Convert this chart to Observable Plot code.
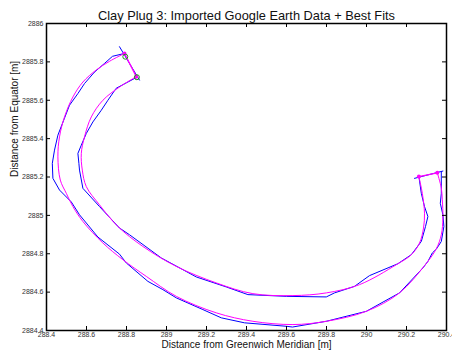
<!DOCTYPE html>
<html>
<head>
<meta charset="utf-8">
<script src="https://cdn.jsdelivr.net/npm/d3@7"></script>
<script src="https://cdn.jsdelivr.net/npm/@observablehq/plot@0.6"></script>
<style>
  html, body { margin: 0; padding: 0; background: #fff; }
  #chart { width: 452px; height: 358px; }
</style>
</head>
<body>
<div id="chart"></div>
<script>
const titleText = "Clay Plug 3: Imported Google Earth Data + Best Fits";
const xLabel = "Distance from Greenwich Meridian [m]";
const yLabel = "Distance from Equator [m]";

const xTicks = [288.4, 288.6, 288.8, 289, 289.2, 289.4, 289.6, 289.8, 290, 290.2, 290.4];
const xTickLabels = ["288.4", "288.6", "288.8", "289", "289.2", "289.4", "289.6", "289.8", "290", "290.2", "290.4"];
const yTicks = [2884.4, 2884.6, 2884.8, 2885, 2885.2, 2885.4, 2885.6, 2885.8, 2886];
const yTickLabels = ["2884.4", "2884.6", "2884.8", "2885", "2885.2", "2885.4", "2885.6", "2885.8", "2886"];

// Google Earth data (blue): outer bank
const blueOuter = [
  [288.79, 2885.844], [288.73, 2885.829], [288.69, 2885.792], [288.64, 2885.747],
  [288.59, 2885.687], [288.557, 2885.635], [288.515, 2885.574], [288.49, 2885.507],
  [288.457, 2885.418], [288.44, 2885.340], [288.429, 2885.271], [288.432, 2885.193],
  [288.465, 2885.132], [288.524, 2885.070], [288.565, 2885.003], [288.657, 2884.887],
  [288.765, 2884.798], [288.799, 2884.752], [288.907, 2884.656], [288.982, 2884.613],
  [289.049, 2884.570], [289.182, 2884.509], [289.274, 2884.466], [289.39, 2884.440],
  [289.599, 2884.422], [289.63, 2884.418], [289.799, 2884.448], [289.999, 2884.500],
  [290.165, 2884.596], [290.282, 2884.726], [290.307, 2884.760], [290.329, 2884.804],
  [290.349, 2884.824], [290.374, 2884.864], [290.387, 2884.942], [290.382, 2885.003],
  [290.369, 2885.063], [290.374, 2885.115], [290.374, 2885.228]
];
// Google Earth data (blue): inner bank
const blueInner = [
  [288.85, 2885.719], [288.807, 2885.695], [288.748, 2885.662], [288.707, 2885.600],
  [288.674, 2885.548], [288.632, 2885.487], [288.599, 2885.427], [288.574, 2885.366],
  [288.557, 2885.323], [288.562, 2885.271], [288.565, 2885.236], [288.582, 2885.141],
  [288.665, 2885.046], [288.765, 2884.934], [288.815, 2884.899], [288.974, 2884.778],
  [289.149, 2884.679], [289.299, 2884.627], [289.407, 2884.587], [289.599, 2884.578],
  [289.799, 2884.575], [289.84, 2884.596], [289.94, 2884.630], [290.015, 2884.686],
  [290.157, 2884.748], [290.224, 2884.795], [290.274, 2884.864], [290.295, 2884.942],
  [290.307, 2884.994], [290.29, 2885.046], [290.274, 2885.115], [290.262, 2885.202]
];
// Google Earth data (blue): end lines
const blueTopEnd = [[288.765, 2885.879], [288.865, 2885.705]];
const blueRightEnd = [[290.24, 2885.193], [290.382, 2885.231]];

// Best fits (magenta)
const fitOuter = [
  [288.79, 2885.844], [288.715, 2885.803], [288.649, 2885.758], [288.582, 2885.695],
  [288.532, 2885.617], [288.49, 2885.513], [288.465, 2885.409], [288.457, 2885.305],
  [288.469, 2885.184], [288.499, 2885.115], [288.532, 2885.046], [288.582, 2884.968],
  [288.682, 2884.856], [288.782, 2884.769], [288.899, 2884.682], [289.049, 2884.578],
  [289.249, 2884.492], [289.432, 2884.448], [289.632, 2884.431], [289.799, 2884.448],
  [289.999, 2884.500], [290.165, 2884.596], [290.29, 2884.738], [290.349, 2884.826],
  [290.374, 2884.899], [290.382, 2884.987], [290.379, 2885.081], [290.374, 2885.143],
  [290.354, 2885.222]
];
const fitInner = [
  [288.849, 2885.723], [288.765, 2885.669], [288.682, 2885.600], [288.624, 2885.513],
  [288.59, 2885.409], [288.574, 2885.323], [288.579, 2885.236], [288.599, 2885.150],
  [288.665, 2885.055], [288.757, 2884.942], [288.882, 2884.838], [289.049, 2884.734],
  [289.249, 2884.648], [289.432, 2884.592], [289.632, 2884.582], [289.799, 2884.596],
  [289.965, 2884.639], [290.149, 2884.743], [290.224, 2884.795], [290.265, 2884.856],
  [290.285, 2884.934], [290.29, 2885.011], [290.279, 2885.115], [290.262, 2885.202]
];
const fitTopEnd = [[288.79, 2885.844], [288.849, 2885.723]];
const fitRightEnd = [[290.262, 2885.202], [290.354, 2885.222]];
const endCircles = [[288.794, 2885.827], [288.852, 2885.720]];

const X = d => d[0], Y = d => d[1];
const font = "'Liberation Sans', Arial, Helvetica, sans-serif";
const W = 452, H = 358, mL = 46, mR = 6, mT = 23, mB = 28;
const fw = W - mL - mR, fh = H - mT - mB;

const blueLines = [blueOuter, blueInner, blueTopEnd, blueRightEnd];

const chart = Plot.plot({
  width: W, height: H,
  marginLeft: mL, marginRight: mR, marginTop: mT, marginBottom: mB,
  style: { fontFamily: font, background: "#fff", overflow: "visible" },
  x: { domain: [288.4, 290.4] },
  y: { domain: [2884.4, 2886] },
  marks: [
    ...blueLines.map(arr => Plot.line(arr, { x: X, y: Y, stroke: "#0000ff", strokeWidth: 1 })),
    Plot.line(fitOuter, { x: X, y: Y, stroke: "#ff00ff", strokeWidth: 1, curve: "catmull-rom" }),
    Plot.line(fitInner, { x: X, y: Y, stroke: "#ff00ff", strokeWidth: 1, curve: "catmull-rom" }),
    Plot.line(fitTopEnd, { x: X, y: Y, stroke: "#ff00ff", strokeWidth: 1.3 }),
    Plot.line(fitRightEnd, { x: X, y: Y, stroke: "#ff00ff", strokeWidth: 1.3 }),
    Plot.dot([...fitTopEnd, ...fitRightEnd], { x: X, y: Y, r: 2, fill: "#ff00ff", stroke: "none" }),
    Plot.dot(endCircles, { x: X, y: Y, r: 2.5, stroke: "#1a9a1a", strokeWidth: 1, fill: "none" }),
    // inward ticks on all four sides
    Plot.ruleX(xTicks, { x: d => d, insetTop: fh - 4, stroke: "black" }),
    Plot.ruleX(xTicks, { x: d => d, insetBottom: fh - 4, stroke: "black" }),
    Plot.ruleY(yTicks, { y: d => d, insetRight: fw - 4, stroke: "black" }),
    Plot.ruleY(yTicks, { y: d => d, insetLeft: fw - 4, stroke: "black" }),
    Plot.frame({ stroke: "black", strokeWidth: 1.5 }),
    Plot.axisX(xTicks, { tickSize: 0, tickPadding: 2, fontSize: 7, fill: "#333",
      tickFormat: d => xTickLabels[xTicks.indexOf(d)], label: null }),
    Plot.axisY(yTicks, { tickSize: 0, tickPadding: 3, fontSize: 7, fill: "#333",
      tickFormat: d => yTickLabels[yTicks.indexOf(d)], label: null }),
    Plot.text([titleText], { frameAnchor: "top", dy: -12.5, fontSize: 12.8, fill: "#111", text: d => d }),
    Plot.text([xLabel], { frameAnchor: "bottom", dy: 17, fontSize: 10, fill: "#111", text: d => d }),
    Plot.text([yLabel], { frameAnchor: "left", dx: -32, rotate: -90, fontSize: 10, fill: "#111", text: d => d })
  ]
});
document.getElementById("chart").appendChild(chart);
</script>
</body>
</html>
